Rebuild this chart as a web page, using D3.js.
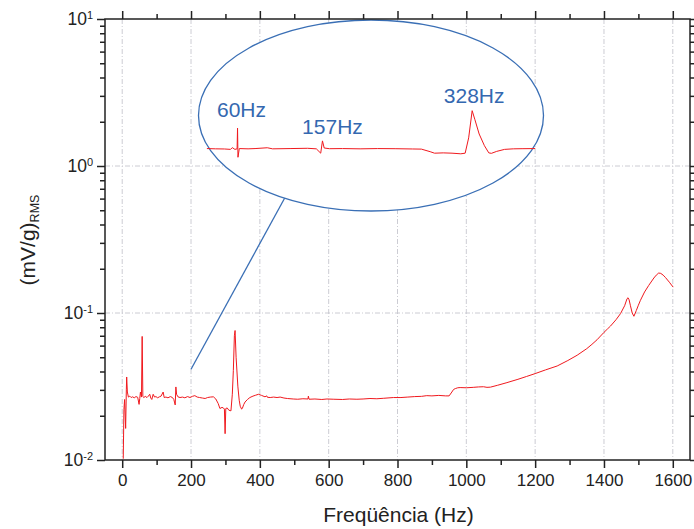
<!DOCTYPE html>
<html>
<meta charset="utf-8">
<title>Espectro</title>
<style>
  html, body { margin: 0; padding: 0; background: #fff; }
  text { font-family: "Liberation Sans", Arial, sans-serif; fill: #222; }
  .grid line { stroke: #c6c6ce; stroke-width: 0.9; stroke-dasharray: 5,2,1,2; }
  .axis path, .axis line { stroke: #222; stroke-width: 1.5; }
  .trace { fill: none; stroke: #f0191e; stroke-width: 1; }
  .note { fill: #3468b0; font-size: 21px; }
</style>
<body>
<svg id="chart" width="694" height="529"></svg>
<script src="https://cdnjs.cloudflare.com/ajax/libs/d3/7.8.5/d3.min.js"></script>
<script>
// main spectrum
var freq = [3, 5, 7, 9, 10, 12, 13, 15, 18, 22, 26, 30, 35, 40, 45, 49, 51, 53, 56, 58, 60,
  63, 67, 72, 76, 80, 83, 86, 90, 94, 98, 103, 108, 113, 119, 122, 127, 133, 140, 146, 150,
  154, 156, 158, 162, 168, 175, 182, 190, 197, 204, 211, 218, 225, 233, 241, 248, 256, 265,
  272, 279, 284, 290, 294, 297, 299, 301, 305, 310, 316, 320, 323, 326, 328, 331, 336, 340,
  343, 347, 349, 353, 357, 364, 371, 380, 388, 396, 405, 415, 420, 422, 430, 440, 450, 459,
  470, 480, 497, 510, 525, 540, 541, 543, 560, 580, 595, 615, 640, 660, 682, 700, 720, 740,
  760, 788, 810, 830, 850, 870, 885, 900, 920, 940, 950, 958, 963, 968, 975, 982, 1000, 1020,
  1035, 1050, 1060, 1070, 1090, 1118, 1150, 1175, 1200, 1230, 1264, 1295, 1322, 1350, 1365,
  1380, 1390, 1400, 1410, 1419, 1435, 1448, 1460, 1467, 1470, 1473, 1477, 1482, 1487, 1494,
  1500, 1506, 1518, 1530, 1545, 1552, 1559, 1565, 1572, 1579, 1590, 1601];
var amp = [0.0102, 0.022, 0.0258, 0.019, 0.0164, 0.03, 0.0367, 0.029, 0.0268, 0.0272, 0.0266,
  0.0269, 0.0265, 0.027, 0.0267, 0.0239, 0.0262, 0.029, 0.0268, 0.0693, 0.027,
  0.0266, 0.0271, 0.0266, 0.0272, 0.028, 0.0264, 0.0258, 0.028, 0.0268, 0.027, 0.0265, 0.0269,
  0.0272, 0.029, 0.0266, 0.0268, 0.0265, 0.027, 0.0266, 0.0258,
  0.0237, 0.0314, 0.028, 0.0269, 0.0266, 0.0268, 0.0265, 0.027, 0.0266, 0.0271, 0.0274, 0.0268,
  0.0266, 0.0264, 0.0262, 0.0266, 0.0268, 0.0269,
  0.026, 0.0242, 0.0224, 0.0228, 0.0226, 0.0222, 0.0151, 0.0224, 0.0226, 0.0218, 0.0216, 0.028,
  0.0407, 0.07, 0.076, 0.05, 0.0318, 0.0255,
  0.0232, 0.0222, 0.0224, 0.0238, 0.0248, 0.0258, 0.0266, 0.0272, 0.0276, 0.028, 0.0275, 0.0269,
  0.0273, 0.0267, 0.0266, 0.0268, 0.0266, 0.0268,
  0.0264, 0.0262, 0.026, 0.0259, 0.0261, 0.026, 0.0272, 0.0259, 0.026, 0.0258, 0.026, 0.0259,
  0.0258, 0.026, 0.0259, 0.026, 0.0262, 0.0261,
  0.0263, 0.0266, 0.0266, 0.0268, 0.027, 0.0271, 0.0274, 0.0273, 0.0275, 0.0273, 0.0273, 0.029,
  0.0302, 0.0306, 0.031, 0.0311, 0.031, 0.0312,
  0.0314, 0.0315, 0.0312, 0.0313, 0.0322, 0.0336, 0.0354, 0.037, 0.0387, 0.041, 0.0436, 0.0475,
  0.0516, 0.0572, 0.0612,
  0.0658, 0.0697, 0.0738, 0.0778, 0.0815, 0.09, 0.099, 0.112, 0.125, 0.127, 0.123, 0.112, 0.1,
  0.095, 0.104,
  0.113, 0.122, 0.139, 0.154, 0.173, 0.181, 0.187, 0.186, 0.181, 0.174, 0.162, 0.150];

// zoomed trace inside the ellipse (25 - 400 Hz)
var insetFreq = [25, 35, 45, 52, 54, 57, 59.5, 60, 60.5, 62, 72, 80, 94, 100, 120, 140, 150,
  155, 157, 159, 165, 180, 200, 220, 240, 260, 270, 280, 285, 295, 305, 315, 320, 324, 328,
  331, 336, 342, 347, 350, 356, 365, 375, 385, 400];
var insetAmp = [0.0268, 0.0266, 0.0265, 0.0262, 0.0275, 0.0262, 0.0266, 0.047, 0.0211, 0.0268,
  0.0266, 0.0268, 0.0274, 0.0266, 0.0268, 0.027, 0.0266,
  0.0236, 0.0331, 0.0272, 0.0267, 0.0268, 0.0266, 0.0268, 0.0267, 0.0265, 0.0264, 0.0246, 0.0236,
  0.0238, 0.0236, 0.0232, 0.0236, 0.036, 0.076,
  0.06, 0.04, 0.029, 0.0238, 0.0235, 0.0248, 0.0262, 0.0266, 0.0267, 0.0268];

var xTicks = [0, 200, 400, 600, 800, 1000, 1200, 1400, 1600];
var xMinor = [100, 300, 500, 700, 900, 1100, 1300, 1500];
var yTicks = [0.01, 0.1, 1, 10];
var yExp = ["-2", "-1", "0", "1"];
var peakLabels = ["60Hz", "157Hz", "328Hz"];
var peakFreq = [60, 157, 328];

var margin = {top: 19, right: 4, bottom: 69, left: 105},
    width = 694 - margin.left - margin.right,
    height = 529 - margin.top - margin.bottom;

var svg = d3.select("#chart");
var g = svg.append("g")
    .attr("transform", "translate(" + margin.left + "," + margin.top + ")");

var x = d3.scaleLinear().domain([-50, 1650]).range([0, width]);
var y = d3.scaleLog().domain([0.01, 10]).range([height, 0]);

var yMinor = [];
yTicks.slice(0, 3).forEach(function(d) {
    for (var k = 2; k <= 9; k++) yMinor.push(d * k);
});

// grid
g.append("g").attr("class", "grid")
    .selectAll("line").data(xTicks).enter().append("line")
    .attr("x1", x).attr("x2", x).attr("y1", 0).attr("y2", height);
g.append("g").attr("class", "grid")
    .selectAll("line").data([0.1, 1]).enter().append("line")
    .attr("y1", y).attr("y2", y).attr("x1", 0).attr("x2", width);

var line = d3.line()
    .x(function(d) { return x(d[0]); })
    .y(function(d) { return y(d[1]); });

g.append("path")
    .datum(d3.zip(freq, amp))
    .attr("class", "trace")
    .attr("d", line);

// connector + ellipse callout
var cx = 266, cy = 96.5, rx = 172.5, ry = 95.5;
g.append("line")
    .attr("x1", x(200)).attr("y1", y(0.0414))
    .attr("x2", cx - 86).attr("y2", cy + 82)
    .attr("stroke", "#3a6fb5").attr("stroke-width", 1.3);
g.append("ellipse")
    .attr("cx", cx).attr("cy", cy).attr("rx", rx).attr("ry", ry)
    .attr("fill", "#fff").attr("stroke", "#3a6fb5").attr("stroke-width", 1.3);

var ix = d3.scaleLinear().domain([25, 400]).range([cx - 164.1, cx + 164.2]);
var iy = d3.scaleLog().domain([0.01, 0.1]).range([cy + 68.9, cy - 14.8]);

g.append("path")
    .datum(d3.zip(insetFreq, insetAmp))
    .attr("class", "trace")
    .attr("d", d3.line()
        .x(function(d) { return ix(d[0]); })
        .y(function(d) { return iy(d[1]); }));

var labelDx = [4, 10, 2], labelY = [97.7, 115, 84.3];
g.selectAll(".note").data(peakLabels).enter().append("text")
    .attr("class", "note")
    .attr("text-anchor", "middle")
    .attr("x", function(d, i) { return ix(peakFreq[i]) + labelDx[i]; })
    .attr("y", function(d, i) { return labelY[i]; })
    .text(function(d) { return d; });

// axes
function axisStyle(sel) {
    sel.select(".domain").remove();
    sel.selectAll("text").style("font-size", "17px").attr("fill", "#222");
}

g.append("g").attr("class", "axis")
    .attr("transform", "translate(0," + height + ")")
    .call(d3.axisBottom(x).tickValues(xTicks).tickSize(8).tickPadding(6).tickFormat(d3.format("d")))
    .call(axisStyle);
g.append("g").attr("class", "axis")
    .attr("transform", "translate(0," + height + ")")
    .call(d3.axisBottom(x).tickValues(xMinor).tickSize(5).tickFormat(""))
    .call(axisStyle);
g.append("g").attr("class", "axis")
    .call(d3.axisTop(x).tickValues(xTicks).tickSize(8).tickFormat(""))
    .call(axisStyle);
g.append("g").attr("class", "axis")
    .call(d3.axisTop(x).tickValues(xMinor).tickSize(5).tickFormat(""))
    .call(axisStyle);

var yAxis = g.append("g").attr("class", "axis")
    .call(d3.axisLeft(y).tickValues(yTicks).tickSize(8).tickPadding(4).tickFormat(""))
    .call(axisStyle);
yAxis.selectAll(".tick text")
    .style("font-size", "17.5px")
    .each(function(d, i) {
        var t = d3.select(this);
        t.append("tspan").text("10");
        t.append("tspan").attr("dy", "-0.55em").style("font-size", "11px").text(yExp[i]);
    });
g.append("g").attr("class", "axis")
    .call(d3.axisLeft(y).tickValues(yMinor).tickSize(5).tickFormat(""))
    .call(axisStyle);
g.append("g").attr("class", "axis")
    .attr("transform", "translate(" + width + ",0)")
    .call(d3.axisRight(y).tickValues(yTicks).tickSize(8).tickFormat(""))
    .call(axisStyle);
g.append("g").attr("class", "axis")
    .attr("transform", "translate(" + width + ",0)")
    .call(d3.axisRight(y).tickValues(yMinor).tickSize(5).tickFormat(""))
    .call(axisStyle);

// frame
g.append("rect")
    .attr("width", width).attr("height", height)
    .attr("fill", "none").attr("stroke", "#222").attr("stroke-width", 1.5);

// titles
svg.append("text")
    .attr("x", margin.left + width / 2 + 1).attr("y", 522)
    .attr("text-anchor", "middle")
    .style("font-size", "21px")
    .text("Freqüência (Hz)");

var yt = svg.append("text")
    .attr("transform", "translate(35,240) rotate(-90)")
    .attr("text-anchor", "middle")
    .style("font-size", "21px");
yt.append("tspan").text("(mV/g)");
yt.append("tspan").attr("dy", "0.3em").style("font-size", "12.5px").text("RMS");
</script>
</body>
</html>
